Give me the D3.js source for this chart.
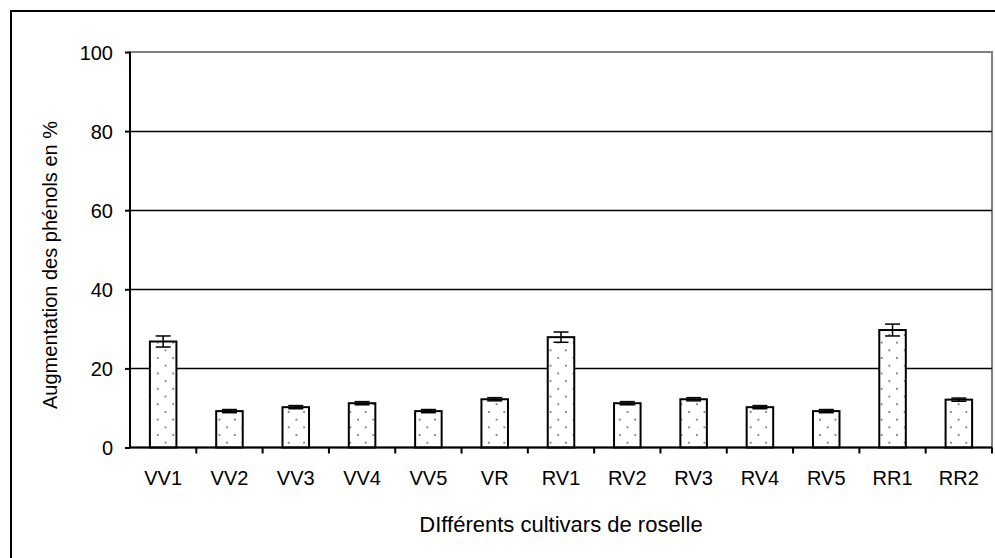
<!DOCTYPE html>
<html>
<head>
<meta charset="utf-8">
<script src="https://cdn.jsdelivr.net/npm/d3@7"></script>
<style>
  html, body { margin: 0; padding: 0; background: #fff; }
  svg text { font-family: "Liberation Sans", Arial, sans-serif; fill: #000; }
</style>
</head>
<body>
<div id="chart"></div>
<script>
const width = 995;
const height = 558;

// Données
const cultivars = ["VV1", "VV2", "VV3", "VV4", "VV5", "VR", "RV1", "RV2", "RV3", "RV4", "RV5", "RR1", "RR2"];
const augmentation = [26.8, 9.2, 10.2, 11.2, 9.2, 12.2, 27.9, 11.2, 12.2, 10.2, 9.2, 29.7, 12.1];
const erreurs = [1.4, 0.4, 0.4, 0.4, 0.4, 0.4, 1.3, 0.4, 0.4, 0.4, 0.4, 1.5, 0.4];
const yTicks = [0, 20, 40, 60, 80, 100];

const margin = {left: 130, right: 3, top: 52, bottom: 110};
const fs = "20px";

const svg = d3.select("#chart")
    .append("svg")
    .attr("width", width)
    .attr("height", height)
    .attr("viewBox", `0 0 ${width} ${height}`);

// Motif pointillé des barres
const defs = svg.append("defs");
const pat = defs.append("pattern")
    .attr("id", "dots")
    .attr("patternUnits", "userSpaceOnUse")
    .attr("width", 15.4)
    .attr("height", 15.4);
pat.append("rect").attr("width", 15.4).attr("height", 15.4).attr("fill", "#fff");
pat.append("rect").attr("x", 3).attr("y", 3).attr("width", 1.6).attr("height", 1.6).attr("fill", "#555");
pat.append("rect").attr("x", 10.7).attr("y", 10.7).attr("width", 1.6).attr("height", 1.6).attr("fill", "#555");

// Cadre extérieur
svg.append("rect")
    .attr("x", 11).attr("y", 11)
    .attr("width", 1000).attr("height", 600)
    .attr("fill", "none")
    .attr("stroke", "#000")
    .attr("stroke-width", 2);

const x = d3.scaleBand()
    .domain(cultivars)
    .range([margin.left, width - margin.right])
    .padding(0);

const y = d3.scaleLinear()
    .domain([0, 100])
    .range([447.5, margin.top]);

// Bordure de la zone de tracé (gris)
svg.append("rect")
    .attr("x", margin.left).attr("y", y(100))
    .attr("width", width - margin.right - margin.left)
    .attr("height", y(0) - y(100))
    .attr("fill", "none")
    .attr("stroke", "#808080")
    .attr("stroke-width", 2);

// Lignes de grille
svg.append("g")
    .selectAll("line")
    .data(yTicks.filter(d => d > 0 && d < 100))
    .join("line")
    .attr("x1", margin.left)
    .attr("x2", width - margin.right)
    .attr("y1", d => Math.round(y(d)) + 0.5)
    .attr("y2", d => Math.round(y(d)) + 0.5)
    .attr("stroke", "#000")
    .attr("stroke-width", 1.3);

// Barres
const bw = x.bandwidth() / 2.5;
svg.append("g")
    .selectAll("rect")
    .data(cultivars)
    .join("rect")
    .attr("x", d => x(d) + x.bandwidth() / 2 - bw / 2)
    .attr("y", (d, i) => y(augmentation[i]))
    .attr("width", bw)
    .attr("height", (d, i) => y(0) - y(augmentation[i]))
    .attr("fill", "url(#dots)")
    .attr("stroke", "#000")
    .attr("stroke-width", 2);

// Barres d'erreur
const eb = svg.append("g").attr("stroke", "#000").attr("stroke-width", 1.5);
cultivars.forEach((c, i) => {
    const cx = x(c) + x.bandwidth() / 2;
    const hi = y(augmentation[i] + erreurs[i]);
    const lo = y(augmentation[i] - erreurs[i]);
    eb.append("line").attr("x1", cx).attr("x2", cx).attr("y1", hi).attr("y2", lo);
    eb.append("line").attr("x1", cx - 7.5).attr("x2", cx + 7.5).attr("y1", hi).attr("y2", hi);
    eb.append("line").attr("x1", cx - 7.5).attr("x2", cx + 7.5).attr("y1", lo).attr("y2", lo);
});

// Axe Y
const yAxis = svg.append("g")
    .attr("transform", `translate(${margin.left},0)`)
    .call(d3.axisLeft(y).tickValues(yTicks).tickSize(5).tickPadding(12));
yAxis.select(".domain").attr("stroke-width", 2).attr("d", `M0,${y(0)}V${y(100)}`);
yAxis.selectAll(".tick line").attr("stroke-width", 2);
yAxis.selectAll("text").style("font-size", fs).attr("dy", "0.35em");

// Axe X
const xAxis = svg.append("g")
    .attr("transform", `translate(0,${y(0)})`)
    .call(d3.axisBottom(x).tickSize(0).tickPadding(23));
xAxis.select(".domain").attr("stroke-width", 2).attr("d", `M${margin.left},0H${width - margin.right}`);
xAxis.selectAll("text").style("font-size", fs);
// Graduations entre les catégories
xAxis.append("g")
    .selectAll("line")
    .data(cultivars)
    .join("line")
    .attr("x1", (d, i) => x(d) + x.step())
    .attr("x2", (d, i) => x(d) + x.step())
    .attr("y1", 0).attr("y2", 6)
    .attr("stroke", "#000")
    .attr("stroke-width", 2);

// Titres des axes
svg.append("text")
    .attr("x", (margin.left + width - margin.right) / 2)
    .attr("y", 532)
    .attr("text-anchor", "middle")
    .style("font-size", "22px")
    .text("DIfférents cultivars de roselle");

svg.append("text")
    .attr("transform", `translate(57,265) rotate(-90)`)
    .attr("text-anchor", "middle")
    .style("font-size", fs)
    .text("Augmentation des phénols en %");
</script>
</body>
</html>
